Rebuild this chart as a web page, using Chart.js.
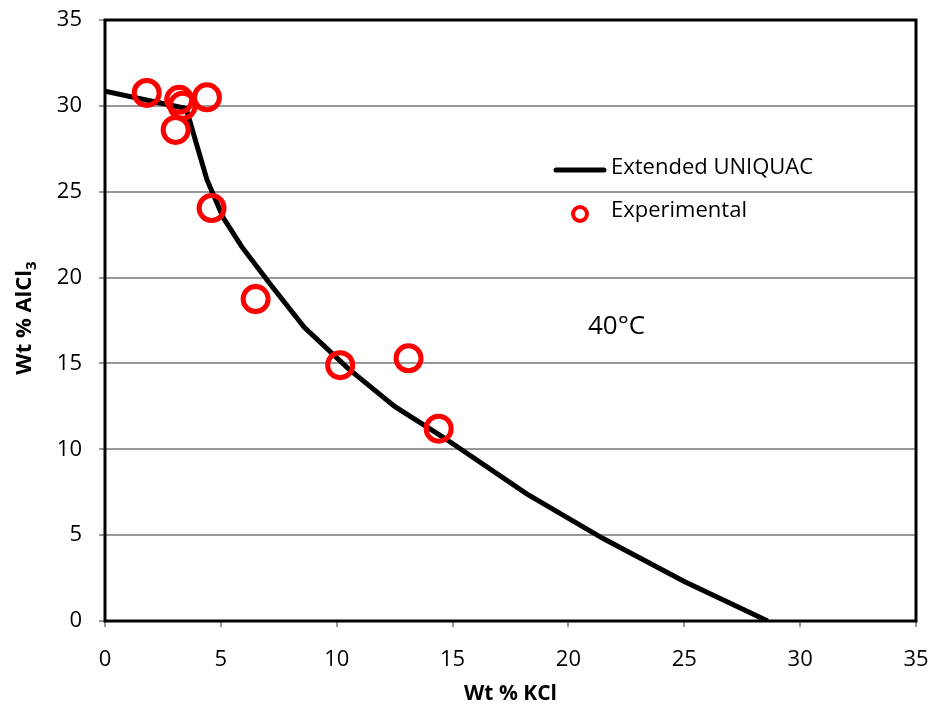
<!DOCTYPE html>
<html>
<head>
<meta charset="utf-8">
<script src="https://cdn.jsdelivr.net/npm/chart.js@4.4.1/dist/chart.umd.min.js"></script>
<style>
  html, body { margin: 0; padding: 0; background: #fff; }
  #wrap { width: 931px; height: 709px; position: relative; }
</style>
</head>
<body>
<div id="wrap"><canvas id="chart"></canvas></div>
<script>
// model curve (Extended UNIQUAC)
const curveKCl = [0, 3.5, 4.4, 5.1, 5.9, 7.2, 8.6, 10.5, 12.5, 14.6, 18.2, 21.5, 25, 28.6];
const curveAlCl3 = [30.85, 29.85, 25.7, 23.5, 21.8, 19.5, 17.1, 14.7, 12.5, 10.7, 7.4, 4.8, 2.3, 0];

// experimental points
const expKCl = [1.8, 3.2, 3.35, 4.4, 3.05, 4.6, 6.5, 10.15, 13.1, 14.4];
const expAlCl3 = [30.75, 30.35, 30.0, 30.5, 28.6, 24.05, 18.75, 14.9, 15.3, 11.2];

const xTicks = [0, 5, 10, 15, 20, 25, 30, 35];
const yTicks = [0, 5, 10, 15, 20, 25, 30, 35];

const seriesNames = ['Extended UNIQUAC', 'Experimental'];
const tempLabel = '40°C';

const FONT = '"Open Sans", "Liberation Sans", sans-serif';

const toPoints = (xs, ys) => xs.map((x, i) => ({ x, y: ys[i] }));

// frame, legend, temperature note and y title with subscript
const decorations = {
  id: 'decorations',
  afterDraw(chart) {
    const { ctx, chartArea: a } = chart;
    ctx.save();

    ctx.strokeStyle = '#000';
    ctx.lineWidth = 3;
    ctx.strokeRect(a.left, a.top, a.right - a.left, a.bottom - a.top);

    // legend
    ctx.font = '22px ' + FONT;
    ctx.fillStyle = '#000';
    ctx.textBaseline = 'middle';
    ctx.textAlign = 'left';
    ctx.lineWidth = 5;
    ctx.lineCap = 'round';
    ctx.beginPath();
    ctx.moveTo(556, 170);
    ctx.lineTo(604, 170);
    ctx.stroke();
    ctx.fillText(seriesNames[0], 611, 168);

    ctx.strokeStyle = '#ff0000';
    ctx.lineWidth = 4;
    ctx.beginPath();
    ctx.arc(580, 214, 7, 0, Math.PI * 2);
    ctx.stroke();
    ctx.fillText(seriesNames[1], 611, 211);

    ctx.font = '26px ' + FONT;
    ctx.fillText(tempLabel, 588, 327);

    // y axis title, rotated, with subscript 3
    ctx.translate(25, 318);
    ctx.rotate(-Math.PI / 2);
    ctx.font = 'bold 22px ' + FONT;
    const main = 'Wt % AlCl';
    const mw = ctx.measureText(main).width;
    ctx.font = 'bold 15px ' + FONT;
    const sw = ctx.measureText('3').width;
    const start = -(mw + sw) / 2;
    ctx.font = 'bold 22px ' + FONT;
    ctx.fillText(main, start, 0);
    ctx.font = 'bold 15px ' + FONT;
    ctx.fillText('3', start + mw, 7);

    ctx.restore();
  }
};

new Chart(document.getElementById('chart'), {
  type: 'scatter',
  data: {
    datasets: [
      {
        label: seriesNames[0],
        data: toPoints(curveKCl, curveAlCl3),
        showLine: true,
        borderColor: '#000',
        borderWidth: 5,
        pointRadius: 0,
        tension: 0,
        order: 2
      },
      {
        label: seriesNames[1],
        data: toPoints(expKCl, expAlCl3),
        showLine: false,
        borderColor: '#ff0000',
        backgroundColor: 'rgba(0,0,0,0)',
        borderWidth: 5,
        pointRadius: 12.5,
        pointHoverRadius: 12.5,
        order: 1
      }
    ]
  },
  options: {
    responsive: true,
    maintainAspectRatio: false,
    animation: false,
    layout: { autoPadding: false, padding: { left: 0, top: 20, right: 15, bottom: 0 } },
    plugins: {
      legend: { display: false },
      tooltip: { enabled: false }
    },
    scales: {
      x: {
        type: 'linear',
        min: 0,
        max: 35,
        afterFit: (s) => { s.height = 88; s.paddingLeft = 0; s.paddingRight = 0; },
        afterBuildTicks: (s) => { s.ticks = xTicks.map(v => ({ value: v })); },
        grid: {
          drawOnChartArea: false,
          drawTicks: true,
          tickLength: 6,
          color: '#999',
          lineWidth: 2
        },
        border: { display: false },
        ticks: {
          color: '#000',
          padding: 20,
          font: { family: FONT, size: 22 },
          maxRotation: 0
        },
        title: {
          display: true,
          text: 'Wt % KCl',
          color: '#000',
          font: { family: FONT, size: 21, weight: 'bold' },
          padding: { top: 0, bottom: 2 }
        }
      },
      y: {
        type: 'linear',
        min: 0,
        max: 35,
        afterFit: (s) => { s.width = 105; s.paddingTop = 0; s.paddingBottom = 0; },
        afterBuildTicks: (s) => { s.ticks = yTicks.map(v => ({ value: v })); },
        grid: {
          drawOnChartArea: true,
          drawTicks: true,
          tickLength: 6,
          color: '#999',
          lineWidth: 2
        },
        border: { display: false },
        ticks: {
          color: '#000',
          padding: 17,
          font: { family: FONT, size: 22 }
        }
      }
    }
  },
  plugins: [decorations]
});
</script>
</body>
</html>
